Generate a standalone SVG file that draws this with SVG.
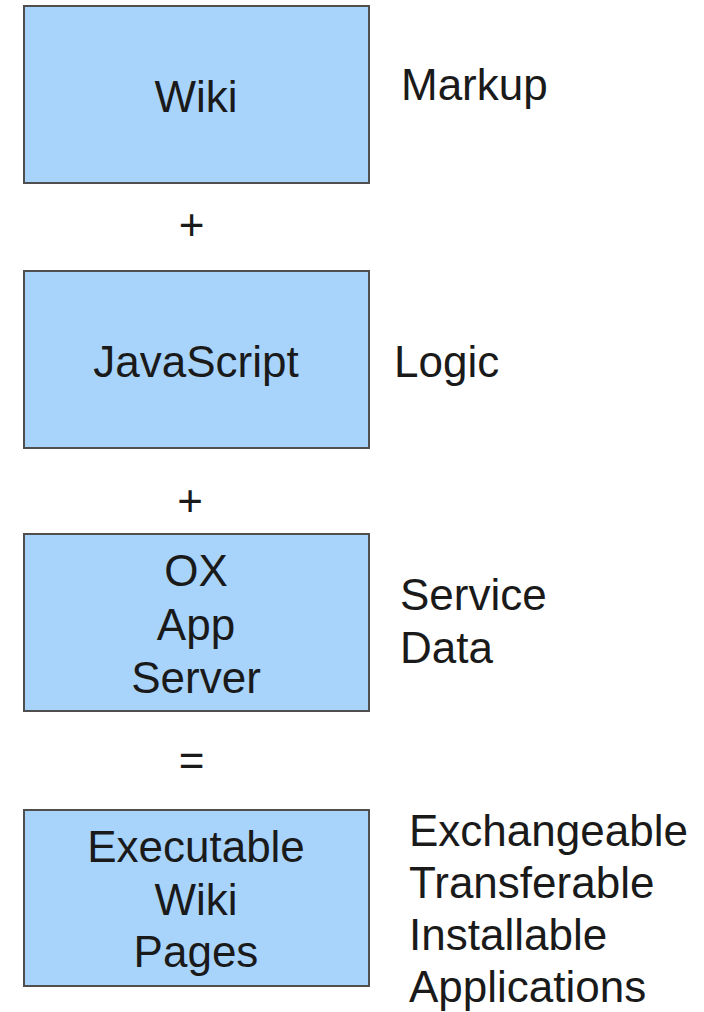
<svg xmlns="http://www.w3.org/2000/svg" width="704" height="1012" viewBox="0 0 704 1012">
<style>
.box{fill:#a8d4fc;stroke:#4f4f4f;stroke-width:2}
text{font-family:"Liberation Sans",Arial,sans-serif;font-size:44px;fill:#1a1a1a}
.c{text-anchor:middle}
</style>
<rect width="704" height="1012" fill="#ffffff"/>
<g id="node-wiki">
<rect class="box" x="24" y="6" width="345" height="177"/>
<text class="c" x="196" y="112">Wiki</text>
</g>
<g id="node-javascript">
<rect class="box" x="24" y="271" width="345" height="177"/>
<text class="c" x="196" y="377">JavaScript</text>
</g>
<g id="node-ox">
<rect class="box" x="24" y="534" width="345" height="177"/>
<text class="c" x="196" y="586">OX</text>
<text class="c" x="196" y="640">App</text>
<text class="c" x="196" y="693">Server</text>
</g>
<g id="node-pages">
<rect class="box" x="24" y="810" width="345" height="176"/>
<text class="c" x="196" y="862">Executable</text>
<text class="c" x="196" y="915">Wiki</text>
<text class="c" x="196" y="967">Pages</text>
</g>
<g id="connectors">
<text class="c" x="191.5" y="240">+</text>
<text class="c" x="190" y="516">+</text>
<text class="c" x="191.5" y="776">=</text>
</g>
<g id="labels">
<text x="401" y="100">Markup</text>
<text x="394" y="377">Logic</text>
<text x="400" y="610">Service</text>
<text x="400" y="663">Data</text>
<text x="409" y="846">Exchangeable</text>
<text x="409" y="898">Transferable</text>
<text x="409" y="950">Installable</text>
<text x="409" y="1002">Applications</text>
</g>
</svg>
